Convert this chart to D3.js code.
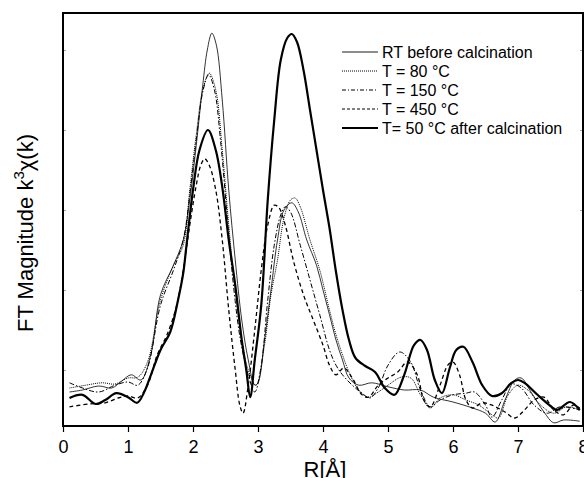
<!DOCTYPE html>
<html><head><meta charset="utf-8">
<script src="https://cdn.jsdelivr.net/npm/d3@7"></script>
<style>body{margin:0;background:#fff}svg{display:block}text{font-family:"Liberation Sans",Arial,sans-serif;fill:#000}</style>
</head><body><svg id="c" width="584" height="478"></svg>
<script>
const xTicks = [0,1,2,3,4,5,6,7,8];
const yTicks = [1,2,3,4,5];
const seriesNames = ["RT before calcination","T = 80 °C","T = 150 °C","T = 450 °C","T= 50 °C after calcination"];

const rtR = [0.1,0.3,0.55,0.75,0.9,1.05,1.2,1.35,1.5,1.7,1.85,1.95,2.05,2.15,2.22,2.29,2.36,2.45,2.55,2.65,2.75,2.85,2.95,3.0,3.1,3.2,3.3,3.4,3.52,3.62,3.75,3.9,4.0,4.1,4.2,4.3,4.4,4.55,4.75,5.0,5.25,5.5,5.7,6.0,6.3,6.5,6.65,6.8,6.95,7.05,7.2,7.4,7.55,7.7,7.95];
const rtV = [0.725,0.75,0.8,0.775,0.86,0.94,0.875,1.19,1.94,2.31,2.625,3.125,3.81,4.56,5.0,5.21,5.06,4.375,3.25,2.375,1.625,1.125,0.81,0.84,1.375,2.0,2.625,3.0,3.09,2.975,2.625,2.31,2.0,1.69,1.375,1.125,0.9,0.81,0.84,0.79,0.75,0.75,0.66,0.6,0.525,0.46,0.35,0.625,0.875,0.9,0.725,0.475,0.34,0.375,0.36];

const t80R = [0.1,0.35,0.6,0.8,1.0,1.15,1.3,1.5,1.7,1.85,1.95,2.05,2.15,2.25,2.35,2.45,2.55,2.65,2.75,2.85,2.97,3.1,3.2,3.3,3.4,3.5,3.57,3.65,3.8,3.95,4.1,4.2,4.3,4.4,4.55,4.7,4.85,5.0,5.2,5.35,5.5,5.65,5.8,6.0,6.2,6.4,6.6,6.7,6.85,7.0,7.15,7.35,7.55,7.75,7.95];
const t80V = [0.775,0.81,0.84,0.825,0.9,0.91,1.1,1.875,2.31,2.56,3.25,3.94,4.5,4.71,4.5,3.75,2.81,2.0,1.375,1.0,0.81,1.31,1.94,2.375,2.9,3.125,3.15,3.04,2.625,2.25,1.75,1.44,1.19,0.975,0.75,0.66,0.725,0.81,0.91,0.9,0.69,0.525,0.65,0.69,0.625,0.56,0.44,0.4,0.69,0.81,0.75,0.56,0.46,0.54,0.5];

const t150R = [0.1,0.3,0.55,0.8,1.0,1.15,1.3,1.5,1.7,1.85,1.95,2.05,2.15,2.24,2.33,2.43,2.53,2.63,2.73,2.85,2.95,3.05,3.15,3.25,3.35,3.42,3.5,3.65,3.8,3.95,4.1,4.2,4.3,4.45,4.6,4.72,4.85,5.0,5.18,5.35,5.5,5.65,5.8,6.0,6.2,6.33,6.5,6.6,6.75,6.9,7.05,7.25,7.45,7.65,7.95];
const t150V = [0.84,0.775,0.725,0.81,0.85,0.81,1.025,1.81,2.25,2.625,3.19,3.875,4.475,4.69,4.5,3.81,2.875,2.0,1.375,0.94,0.725,1.06,1.875,2.56,2.94,3.04,2.975,2.56,2.125,1.69,1.25,1.06,0.94,0.81,0.71,0.65,0.775,1.06,1.225,1.1,0.75,0.54,0.625,0.69,0.71,0.725,0.56,0.41,0.625,0.825,0.775,0.56,0.46,0.54,0.5];

const t450R = [0.1,0.4,0.65,0.85,1.0,1.15,1.3,1.45,1.6,1.75,1.85,1.95,2.05,2.12,2.18,2.25,2.35,2.45,2.55,2.65,2.72,2.77,2.85,2.95,3.05,3.15,3.25,3.32,3.42,3.55,3.7,3.85,4.0,4.1,4.2,4.32,4.45,4.6,4.7,4.85,5.0,5.15,5.3,5.45,5.55,5.65,5.8,5.92,6.0,6.1,6.2,6.3,6.45,6.6,6.8,6.95,7.1,7.25,7.4,7.55,7.7,7.85,7.95];
const t450V = [0.54,0.575,0.59,0.65,0.675,0.65,0.81,1.19,1.44,1.81,2.25,2.81,3.31,3.56,3.64,3.56,3.25,2.625,1.75,1.0,0.56,0.46,0.81,1.5,2.25,2.81,3.06,3.03,2.81,2.35,1.94,1.625,1.31,1.06,0.94,1.025,0.9,0.69,0.66,0.81,0.9,0.975,1.1,0.94,0.625,0.54,0.81,1.06,1.1,0.94,0.625,0.525,0.59,0.56,0.475,0.4,0.5,0.625,0.66,0.5,0.44,0.56,0.525];

const t50R = [0.1,0.3,0.5,0.65,0.82,1.0,1.14,1.25,1.34,1.5,1.65,1.77,1.85,1.9,2.0,2.1,2.23,2.35,2.45,2.55,2.65,2.75,2.82,2.88,2.95,3.05,3.15,3.25,3.35,3.45,3.52,3.6,3.7,3.8,3.9,4.0,4.1,4.2,4.3,4.4,4.5,4.65,4.8,4.95,5.1,5.25,5.4,5.5,5.6,5.72,5.83,5.95,6.05,6.16,6.3,6.45,6.6,6.75,6.9,7.0,7.1,7.3,7.5,7.6,7.8,7.95];
const t50V = [0.65,0.69,0.575,0.625,0.71,0.66,0.59,0.725,0.91,1.25,1.475,1.875,2.21,2.56,3.25,3.75,4.0,3.75,3.29,2.625,2.06,1.375,1.0,0.66,1.125,1.81,3.125,4.125,4.875,5.15,5.2,5.1,4.75,4.25,3.75,3.25,2.775,2.225,1.75,1.375,1.15,1.05,0.975,0.775,0.69,0.94,1.31,1.375,1.25,0.875,0.71,1.025,1.25,1.29,1.1,0.81,0.675,0.71,0.84,0.875,0.84,0.69,0.55,0.5,0.6,0.5];

const svg = d3.select("#c");
const m = {l:63, t:13, r:583, b:426};
const x = d3.scaleLinear().domain([0,8]).range([m.l, m.r]);
const y = d3.scaleLinear().domain([0.3, 5.4625]).range([m.b, m.t]);

svg.append("clipPath").attr("id","clip").append("rect")
  .attr("x",m.l).attr("y",m.t).attr("width",m.r-m.l).attr("height",m.b-m.t);

const styles = [
  {w:0.8, dash:null},
  {w:1.0, dash:"1,1"},
  {w:1.0, dash:"5,2,1.5,2"},
  {w:1.3, dash:"4,3"},
  {w:2.2, dash:null}
];
const data = [[rtR,rtV],[t80R,t80V],[t150R,t150V],[t450R,t450V],[t50R,t50V]];
const line = d3.line().x(d=>x(d[0])).y(d=>y(d[1])).curve(d3.curveCatmullRom.alpha(0.5));
const g = svg.append("g").attr("clip-path","url(#clip)");
data.forEach((s,i)=>{
  const pts = s[0].map((r,j)=>[r, s[1][j]]);
  g.append("path").attr("d", line(pts)).attr("fill","none").attr("stroke","#000")
    .attr("stroke-width", styles[i].w).attr("stroke-dasharray", styles[i].dash)
    .attr("stroke-linejoin","round");
});

// axes
const xAxis = d3.axisBottom(x).tickValues(xTicks).tickSize(6).tickPadding(8).tickFormat(d3.format("d"));
const ax = svg.append("g").attr("transform",`translate(0,${m.b})`).call(xAxis);
ax.select(".domain").remove();
ax.selectAll("line").attr("stroke","#000").attr("stroke-width",1.2);
ax.selectAll("text").attr("font-size",18).style("font-family","Liberation Sans, Arial, sans-serif");

const yl = svg.append("g").attr("transform",`translate(${m.l},0)`).call(d3.axisRight(y).tickValues(yTicks).tickSize(3).tickFormat(""));
yl.select(".domain").remove();
yl.selectAll("line").attr("stroke","#888").attr("stroke-width",0.8);
const yr = svg.append("g").attr("transform",`translate(${m.r},0)`).call(d3.axisLeft(y).tickValues(yTicks).tickSize(3).tickFormat(""));
yr.select(".domain").remove();
yr.selectAll("line").attr("stroke","#888").attr("stroke-width",0.8);

svg.append("rect").attr("x",m.l).attr("y",m.t).attr("width",m.r-m.l).attr("height",m.b-m.t)
  .attr("fill","none").attr("stroke","#000").attr("stroke-width",2);

// titles
svg.append("text").attr("x",(m.l+m.r)/2+2).attr("y",477).attr("text-anchor","middle").attr("font-size",22).text("R[Å]");
const yt = svg.append("text").attr("transform","translate(33,233) rotate(-90)").attr("text-anchor","middle").attr("font-size",22);
yt.append("tspan").text("FT Magnitude k");
yt.append("tspan").attr("dy",-9).attr("font-size",15).text("3");
yt.append("tspan").attr("dy",9).text("χ(k)");

// legend
const lg = svg.append("g");
const legendDash = [null,"1,1","4,2,1,2","3,2",null];
seriesNames.forEach((n,i)=>{
  const yy = 52 + i*19;
  lg.append("line").attr("x1",342).attr("x2",378).attr("y1",yy).attr("y2",yy)
    .attr("stroke","#000").attr("stroke-width", i===4?2.2:(i===0?0.9:1)).attr("stroke-dasharray",legendDash[i]);
  lg.append("text").attr("x",382).attr("y",yy+5.5).attr("font-size",16).text(n);
});
</script></body></html>
